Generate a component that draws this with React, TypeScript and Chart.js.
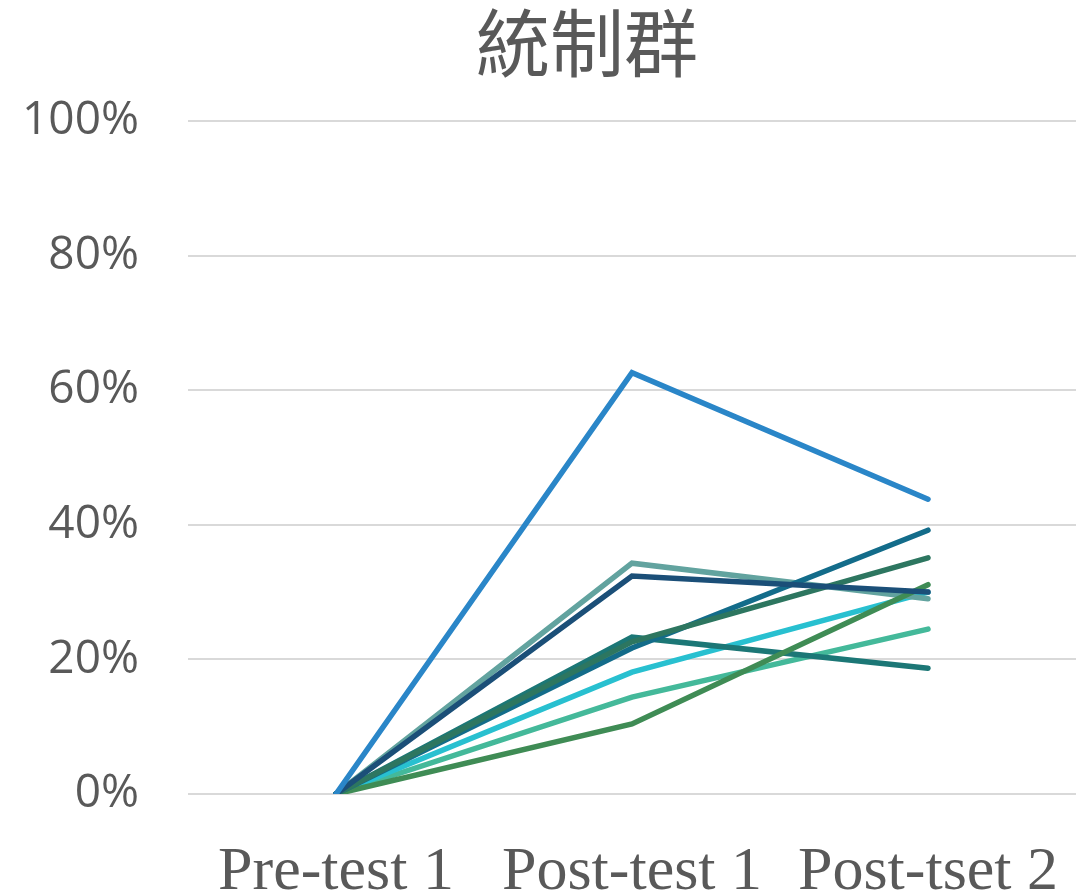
import React, { useEffect, useRef } from "react";
import { Chart, registerables } from "chart.js";

Chart.register(...registerables);

const titleText = "統制群";
const categories = ["Pre-test 1", "Post-test 1", "Post-tset 2"];
const yTicks = [0, 0.2, 0.4, 0.6, 0.8, 1.0];

// listed top-most first
const seriesBlue = [0, 0.626, 0.438];
const seriesNavy = [0, 0.324, 0.3];
const seriesDarkGreen = [0, 0.226, 0.351];
const seriesBlueTeal = [0, 0.217, 0.392];
const seriesGreen = [0, 0.104, 0.311];
const seriesDarkTeal = [0, 0.233, 0.187];
const seriesTealGray = [0, 0.343, 0.29];
const seriesCyan = [0, 0.181, 0.3];
const seriesSeafoam = [0, 0.144, 0.245];

const seriesList = [
  { data: seriesBlue, color: "#2a86c8" },
  { data: seriesNavy, color: "#1b4f78" },
  { data: seriesDarkGreen, color: "#2d7660" },
  { data: seriesBlueTeal, color: "#136c8a" },
  { data: seriesGreen, color: "#3f8c55" },
  { data: seriesDarkTeal, color: "#1c7776" },
  { data: seriesTealGray, color: "#62a39f" },
  { data: seriesCyan, color: "#28c0d0" },
  { data: seriesSeafoam, color: "#44b99a" },
];

const titlePlugin = {
  id: "cjkTitle",
  afterDraw(chart: any) {
    const ctx = chart.ctx;
    ctx.save();
    ctx.font = '74px "Noto Sans CJK TC", "Noto Sans CJK SC", sans-serif';
    ctx.fillStyle = "#595959";
    ctx.textAlign = "center";
    ctx.textBaseline = "middle";
    ctx.fillText(titleText, 587, 43);
    ctx.restore();
  },
};

export default function App() {
  const ref = useRef<HTMLCanvasElement>(null);
  useEffect(() => {
    const canvas = ref.current!;
    const chart = new Chart(canvas, {
      type: "line",
      data: {
        labels: categories,
        datasets: seriesList.map((s) => ({
          data: s.data,
          borderColor: s.color,
          backgroundColor: s.color,
          borderWidth: 5.5,
          pointRadius: 0,
          borderCapStyle: "round",
          borderJoinStyle: "miter",
          tension: 0,
          fill: false,
        })),
      },
      options: {
        animation: false,
        responsive: false,
        maintainAspectRatio: false,
        layout: { padding: { top: 121, right: 5, left: 0, bottom: 0 } },
        plugins: {
          legend: { display: false },
          title: { display: false },
          tooltip: { enabled: false },
        },
        scales: {
          x: {
            offset: true,
            grid: { display: false, drawTicks: false },
            border: { display: false },
            ticks: {
              color: "#595959",
              padding: 42,
              maxRotation: 0,
              autoSkip: false,
              font: { family: '"Liberation Serif", "Times New Roman", serif', size: 62, lineHeight: 1.2 },
            },
            afterFit: (s: any) => {
              s.height = 101;
              s.paddingLeft = 0;
              s.paddingRight = 0;
            },
          },
          y: {
            min: 0,
            max: 1,
            afterBuildTicks: (s: any) => {
              s.ticks = yTicks.map((v) => ({ value: v }));
            },
            grid: { color: "#d9d9d9", lineWidth: 2, drawTicks: false },
            border: { display: false },
            ticks: {
              color: "#595959",
              padding: 49,
              font: { family: '"Open Sans", "Noto Sans", sans-serif', size: 46 },
              callback: (v: any) => Math.round(Number(v) * 100) + "%",
            },
            afterFit: (s: any) => {
              s.width = 188;
              s.paddingTop = 0;
              s.paddingBottom = 0;
            },
          },
        },
      },
      plugins: [titlePlugin],
    } as any);
    return () => chart.destroy();
  }, []);
  return (
    <div style={{ position: "fixed", left: 0, top: 0, width: 1081, height: 895, background: "#fff" }}>
      <canvas ref={ref} width={1081} height={895} style={{ display: "block", width: 1081, height: 895 }} />
    </div>
  );
}
